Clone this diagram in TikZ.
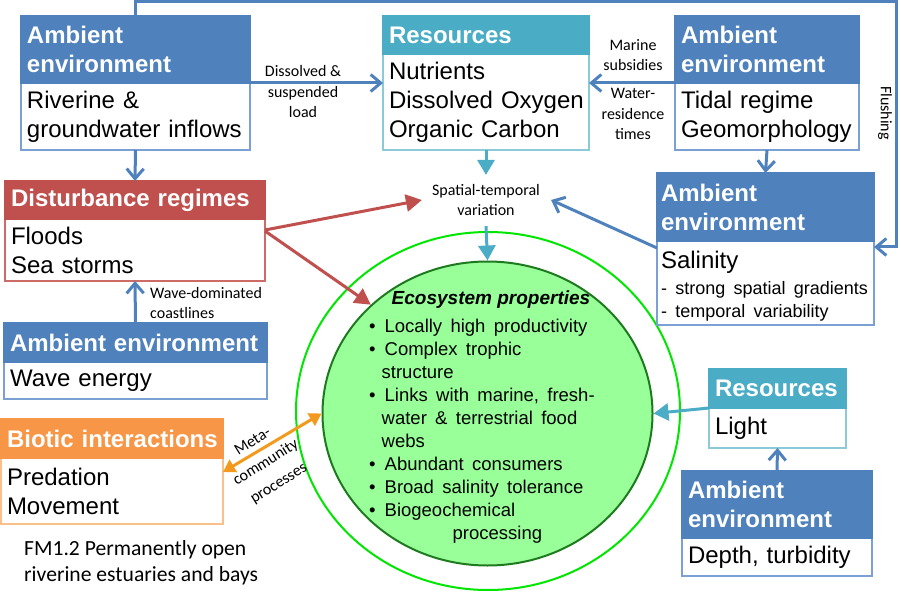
\documentclass[tikz,border=0pt]{standalone}
\usepackage{fontspec}
\setmainfont{Liberation Sans}
\newfontfamily\calib{Carlito}
\usetikzlibrary{arrows.meta,shapes.geometric}
\definecolor{bH}{HTML}{4F81BD}
\definecolor{bL}{HTML}{7AA0D4}
\definecolor{tH}{HTML}{4BACC6}
\definecolor{tL}{HTML}{8CCAD9}
\definecolor{rH}{HTML}{C0504D}
\definecolor{rL}{HTML}{CD6B68}
\definecolor{oH}{HTML}{F79646}
\definecolor{oL}{HTML}{FBBF8A}
\definecolor{oA}{HTML}{F39A1E}
\definecolor{gO}{HTML}{00E600}
\definecolor{gD}{HTML}{1E7A1E}
\definecolor{gF}{HTML}{99FF99}
\newcommand\myhf{\fontsize{24}{29}\selectfont\bfseries}
\newcommand\mybf{\fontsize{24}{29}\selectfont}
\newcommand\mylf{\calib\fontsize{16}{20.5}\selectfont}
\newcommand\myef{\fontsize{18.5}{23}\selectfont\spaceskip=0.45em\relax}
\begin{document}
\begin{tikzpicture}[x=1pt,y=-1pt,
  box/.style={anchor=north west, inner xsep=6pt, inner ysep=0pt, outer sep=0pt, align=left},
  hb/.style={box, fill=bH, draw=bH, line width=1.5pt, text=white, font=\myhf},
  ht/.style={box, fill=tH, draw=tH, line width=1.5pt, text=white, font=\myhf},
  hr/.style={box, fill=rH, draw=rH, line width=1.5pt, text=white, font=\myhf},
  ho/.style={box, fill=oH, draw=oH, line width=1.5pt, text=white, font=\myhf},
  bb/.style={box, draw=bL, fill=white, line width=1.5pt, font=\mybf},
  bt/.style={box, draw=tL, fill=white, line width=1.5pt, font=\mybf},
  br/.style={box, draw=rL, fill=white, line width=1.5pt, font=\mybf},
  bo/.style={box, draw=oL, fill=white, line width=1.5pt, font=\mybf},
  lbl/.style={font=\mylf, inner sep=0pt, align=center},
  barrow/.style={draw=bH, line width=3pt, -{Straight Barb[length=10pt,width=17pt]}},
  tarrow/.style={draw=tH, line width=3pt, -{Triangle[length=15pt,width=17pt]}},
  rarrow/.style={draw=rH, line width=3pt, -{Triangle[length=16pt,width=17pt]}},
  oarrow/.style={draw=oA, line width=3pt, {Triangle[length=12pt,width=14pt]}-{Triangle[length=12pt,width=14pt]}}
]
\useasboundingbox (0,0) rectangle (901,601);

% ecosystem circles
\node[ellipse, draw=gO, line width=2pt, minimum width=384pt, minimum height=358pt, inner sep=0pt] (outer) at (488,411) {};
\node[ellipse, draw=gD, fill=gF, line width=2pt, minimum width=330pt, minimum height=304pt, inner sep=0pt] (inner) at (487.5,413.5) {};
\node[font=\fontsize{19}{23}\selectfont\bfseries\itshape, inner sep=0pt] (eptitle) at (491,300) {Ecosystem properties};
\node[anchor=north west, inner sep=0pt, font=\myef] (eplist) at (369,316) {%
\begin{tabular}{@{}l@{\hspace{9pt}}l@{}}
\textbullet & Locally high productivity\\
\textbullet & Complex trophic\\
 & \hspace*{-3pt}structure\\
\textbullet & Links with marine, fresh-\\
 & \hspace*{-3pt}water \& terrestrial food\\
 & \hspace*{-3pt}webs\\
\textbullet & Abundant consumers\\
\textbullet & Broad salinity tolerance\\
\textbullet & Biogeochemical\\
 & \hspace*{68pt}processing
\end{tabular}};

% top-left ambient environment
\node[bb, text width=217pt, minimum height=67pt] (tlb) at (21,83) {Riverine \&\\\mbox{groundwater inflows}};
\node[hb, text width=217pt, minimum height=67pt] (tlh) at (21,16) {Ambient\\environment};

% resources top
\node[bt, text width=194pt, minimum height=96pt] (resb) at (383,54) {Nutrients\\\mbox{Dissolved Oxygen}\\Organic Carbon};
\node[ht, text width=194pt, minimum height=38pt] (resh) at (383,16) {Resources};

% top-right ambient environment
\node[bb, text width=172pt, minimum height=67pt] (trb) at (675,83) {Tidal regime\\Geomorphology};
\node[hb, text width=172pt, minimum height=67pt] (trh) at (675,16) {Ambient\\environment};

% salinity
\node[bb, text width=209pt, minimum height=84pt, inner xsep=4pt] (salb) at (657,241) {\rule{0pt}{23pt}Salinity\\[3pt]\fontsize{18}{23}\selectfont\spaceskip=0.46em\relax\mbox{- strong spatial gradients}\\\mbox{- temporal variability}\par};
\node[hb, text width=209pt, minimum height=68pt, inner xsep=4pt] (salh) at (657,173) {Ambient\\environment};

% disturbance
\node[br, text width=248pt, minimum height=62pt] (distb) at (5,219) {Floods\\Sea storms};
\node[hr, text width=248pt, minimum height=38pt] (disth) at (5,181) {Disturbance regimes};

% wave
\node[bb, text width=251pt, minimum height=37pt] (waveb) at (4,362) {Wave energy};
\node[hb, text width=251pt, minimum height=39pt] (waveh) at (4,323) {\mbox{Ambient environment}};

% biotic
\node[bo, text width=210pt, minimum height=66pt] (biob) at (1,458) {Predation\\Movement};
\node[ho, text width=210pt, minimum height=39pt] (bioh) at (1,419) {\mbox{Biotic interactions}};

% light
\node[bt, text width=125pt, minimum height=40pt] (lightb) at (709,408) {Light};
\node[ht, text width=125pt, minimum height=39pt] (lighth) at (709,369) {Resources};

% depth
\node[bb, text width=178pt, minimum height=38pt] (depthb) at (682,538) {Depth, turbidity};
\node[hb, text width=178pt, minimum height=67pt] (depthh) at (682,471) {Ambient\\environment};

% labels
\node[lbl] (spat) at (486,200) {Spatial-temporal\\variation};
\node[lbl] (dsl) at (303,92) {Dissolved \&\\suspended\\load};
\node[lbl] (msub) at (633,55) {Marine\\subsidies};
\node[lbl] (wrt) at (633,114) {Water-\\residence\\times};
\node[lbl, align=left, anchor=west] (wdc) at (150,303) {Wave-dominated\\coastlines};
\node[lbl, rotate=-90] (flush) at (885,113) {Flushing};
\node[lbl, rotate=32] (meta) at (266,463) {Meta-\\[4pt]community\\[4pt]processes};
\node[anchor=west, align=left, inner sep=0pt, font=\calib\fontsize{21.6}{26}\selectfont] (cap) at (24,563) {FM1.2 Permanently open\\riverine estuaries and bays};

% connectors
\coordinate (ftop) at (896,2);
\coordinate (fbot) at (896,247);
\draw[barrow] (tlh.north) |- (ftop) -- (fbot) -- (salb.east |- fbot);
\draw[barrow] (tlb.south) -- (disth.north);
\draw[barrow] (tlb.north east) -- (resb.west |- tlb.north east);
\draw[barrow] (trb.north west) -- (resb.east |- trb.north west);
\draw[barrow] (trb.south) -- (salh.north);
\draw[barrow] (waveh.north) -- (distb.south);
\draw[barrow] (depthh.north) -- (lightb.south);
\draw[barrow] ([yshift=-7pt]salb.north west) -- ([xshift=11pt]spat.east);
\draw[tarrow] (resb.south) -- ([yshift=9pt]spat.north);
\draw[tarrow] ([yshift=-10pt]spat.south) -- (inner.north);
\draw[tarrow] (lighth.south west) -- (inner.east);
\draw[rarrow] ([yshift=-11pt]distb.north east) -- ([xshift=-10pt]spat.west);
\draw[rarrow] ([yshift=-12pt]distb.north east) -- (inner.137);
\draw[oarrow] ([yshift=-14pt]biob.north east) -- (inner.west);
\end{tikzpicture}
\end{document}
